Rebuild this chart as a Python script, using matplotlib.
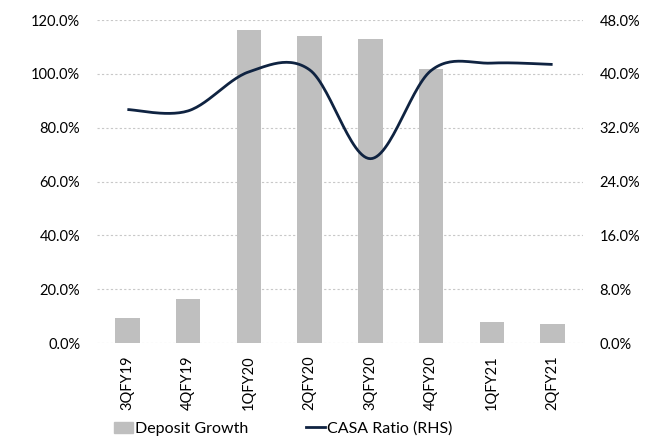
import matplotlib
matplotlib.use('Agg')
import matplotlib.pyplot as plt
from matplotlib.patches import Patch
from matplotlib.lines import Line2D
from matplotlib.ticker import FuncFormatter
import numpy as np

quarters = ['3QFY19', '4QFY19', '1QFY20', '2QFY20', '3QFY20', '4QFY20', '1QFY21', '2QFY21']
deposit_growth = [9.3, 16.4, 116.4, 114.1, 113.0, 101.9, 7.8, 7.0]
casa_ratio = [34.7, 34.5, 40.3, 40.6, 27.4, 40.5, 41.6, 41.4]

plt.rcParams['font.family'] = ['Lato', 'DejaVu Sans']
plt.rcParams['font.size'] = 10.5


def smooth(xs, ys, n=30):
    # excel style smoothed line (bezier through the points)
    xs = np.asarray(xs, float)
    ys = np.asarray(ys, float)
    px = np.concatenate([[xs[0]], xs, [xs[-1]]])
    py = np.concatenate([[ys[0]], ys, [ys[-1]]])
    outx, outy = [], []
    t = np.linspace(0, 1, n)
    for i in range(1, len(px) - 2):
        p0x, p1x, p2x, p3x = px[i - 1:i + 3]
        p0y, p1y, p2y, p3y = py[i - 1:i + 3]
        c1x = p1x + (p2x - p0x) / 6
        c1y = p1y + (p2y - p0y) / 6
        c2x = p2x - (p3x - p1x) / 6
        c2y = p2y - (p3y - p1y) / 6
        bx = (1-t)**3*p1x + 3*(1-t)**2*t*c1x + 3*(1-t)*t**2*c2x + t**3*p2x
        by = (1-t)**3*p1y + 3*(1-t)**2*t*c1y + 3*(1-t)*t**2*c2y + t**3*p2y
        outx.extend(bx)
        outy.extend(by)
    return outx, outy


fig = plt.figure(figsize=(6.51, 4.45), dpi=100)
ax = fig.add_axes([0.149, 0.229, 0.7465, 0.726])
x = np.arange(len(quarters))

ax.bar(x, deposit_growth, width=0.4, color='#bfbfbf', zorder=2)
ax.set_ylim(0, 120)
ax.set_yticks(np.arange(0, 121, 20))
ax.yaxis.set_major_formatter(FuncFormatter(lambda v, p: f'{v:.1f}%'))
ax.set_xlim(-0.5, len(quarters) - 0.5)
ax.set_xticks(x)
ax.set_xticklabels(quarters, rotation=90)
ax.grid(axis='y', color='#c8c8c8', linestyle=(0, (2, 2)), linewidth=0.8, zorder=0)
ax.set_axisbelow(True)
ax.tick_params(axis='y', length=0, pad=12)
ax.tick_params(axis='x', length=0, pad=9)
for s in ax.spines.values():
    s.set_visible(False)

ax2 = ax.twinx()
sx, sy = smooth(x, casa_ratio)
ax2.plot(sx, sy, color='#0f2341', linewidth=2.0, zorder=3, solid_capstyle='butt')
ax2.set_ylim(0, 48)
ax2.set_yticks(np.arange(0, 49, 8))
ax2.yaxis.set_major_formatter(FuncFormatter(lambda v, p: f'{v:.1f}%'))
ax2.tick_params(axis='y', length=0, pad=12)
for s in ax2.spines.values():
    s.set_visible(False)

handles = [Patch(color='#bfbfbf', label='Deposit Growth'),
           Line2D([0], [0], color='#0f2341', linewidth=2.0, label='CASA Ratio (RHS)')]
fig.legend(handles=handles, loc='lower center', bbox_to_anchor=(0.435, -0.012), ncol=2,
           frameon=False, fontsize=11.5, columnspacing=3.6, handlelength=1.2,
           handletextpad=0.15, handleheight=0.75)

fig.savefig('out.png', dpi=100)
